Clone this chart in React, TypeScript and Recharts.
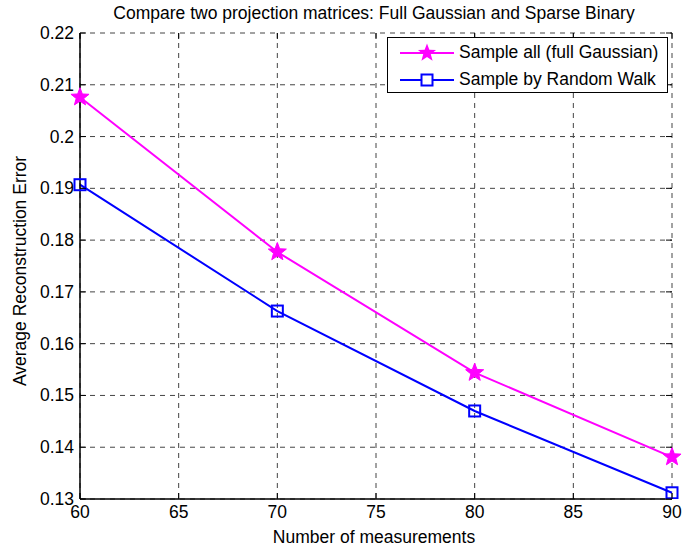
import React from 'react';
import { LineChart, Line, XAxis, YAxis, CartesianGrid, Legend } from 'recharts';

const measurements = [60, 70, 80, 90];
const fullGaussian = [0.2076, 0.1777, 0.1544, 0.1381];
const randomWalk = [0.1907, 0.1663, 0.147, 0.1312];
const xTicks = [60, 65, 70, 75, 80, 85, 90];
const yTicks = [0.13, 0.14, 0.15, 0.16, 0.17, 0.18, 0.19, 0.2, 0.21, 0.22];
const seriesNames = ['Sample all (full Gaussian)', 'Sample by Random Walk'];
const titleText = 'Compare two projection matrices: Full Gaussian and Sparse Binary';
const xLabel = 'Number of measurements';
const yLabel = 'Average Reconstruction Error';

const data = measurements.map((m, i) => ({ m, g: fullGaussian[i], r: randomWalk[i] }));

const FONT = '"Liberation Sans", Arial, sans-serif';
const FS = 17.5;
const MAGENTA = '#ff00ff';
const BLUE = '#0000ff';
const TICK_MARGIN = 4;
const TICK_IN = 6;

const starPath = (cx: number, cy: number, R: number) => {
  const r = R * 0.42;
  const pts: string[] = [];
  for (let i = 0; i < 10; i++) {
    const a = -Math.PI / 2 + (i * Math.PI) / 5;
    const rad = i % 2 === 0 ? R : r;
    pts.push(`${cx + rad * Math.cos(a)},${cy + rad * Math.sin(a)}`);
  }
  return 'M' + pts.join('L') + 'Z';
};

const StarDot = (props: any) => {
  const { cx, cy, index } = props;
  if (cx == null || cy == null) return null;
  return <path key={`s${index}`} d={starPath(cx, cy, 9.5)} fill={MAGENTA} stroke={MAGENTA} strokeWidth={1} />;
};

const SquareDot = (props: any) => {
  const { cx, cy, index } = props;
  if (cx == null || cy == null) return null;
  return <rect key={`q${index}`} x={cx - 5.5} y={cy - 5.5} width={11} height={11} fill="none" stroke={BLUE} strokeWidth={2} />;
};

const BottomTick = (props: any) => {
  const { x, y, payload } = props;
  const axisY = y - TICK_MARGIN;
  return (
    <g>
      <line x1={x} x2={x} y1={axisY} y2={axisY - TICK_IN} stroke="#000" />
      <line x1={x} x2={x} y1={33} y2={33 + TICK_IN} stroke="#000" />
      <text x={x} y={axisY + 19} textAnchor="middle" fontFamily={FONT} fontSize={FS} fill="#000">
        {payload.value}
      </text>
    </g>
  );
};

const LeftTick = (props: any) => {
  const { x, y, payload } = props;
  const axisX = x + TICK_MARGIN;
  const label = String(Number(payload.value.toFixed(2)));
  return (
    <g>
      <line x1={axisX} x2={axisX + TICK_IN} y1={y} y2={y} stroke="#000" />
      <line x1={672} x2={672 - TICK_IN} y1={y} y2={y} stroke="#000" />
      <text x={axisX - 6} y={y + 6} textAnchor="end" fontFamily={FONT} fontSize={FS} fill="#000">
        {label}
      </text>
    </g>
  );
};

const LegendBox = () => (
  <div
    style={{
      width: 279,
      height: 54,
      border: '1px solid #000',
      background: '#fff',
      fontFamily: FONT,
      fontSize: FS,
      color: '#000',
      boxSizing: 'content-box',
    }}
  >
    {seriesNames.map((name, i) => (
      <div key={name} style={{ display: 'flex', alignItems: 'center', height: 27, paddingTop: i === 0 ? 1 : 0 }}>
        <svg width={56} height={20} style={{ marginLeft: 10 }}>
          <line x1={2} x2={56} y1={10} y2={10} stroke={i === 0 ? MAGENTA : BLUE} strokeWidth={2} />
          {i === 0 ? (
            <path d={starPath(29, 10, 9.5)} fill={MAGENTA} />
          ) : (
            <rect x={23.5} y={4.5} width={11} height={11} fill="#fff" stroke={BLUE} strokeWidth={2} />
          )}
        </svg>
        <span style={{ marginLeft: 5, whiteSpace: 'nowrap' }}>{name}</span>
      </div>
    ))}
  </div>
);

export default function App() {
  return (
    <div style={{ position: 'absolute', left: 0, top: 0, width: 683, height: 552, background: '#fff' }}>
      <LineChart width={683} height={552} data={data} margin={{ top: 33, right: 11, left: 20, bottom: 23 }}>
        <text x={374} y={19} textAnchor="middle" fontFamily={FONT} fontSize={FS} fill="#000">
          {titleText}
        </text>
        <text
          x={0}
          y={0}
          transform="translate(26,271) rotate(-90)"
          textAnchor="middle"
          fontFamily={FONT}
          fontSize={FS}
          fill="#000"
        >
          {yLabel}
        </text>
        <text x={374} y={543} textAnchor="middle" fontFamily={FONT} fontSize={FS} fill="#000">
          {xLabel}
        </text>
        <CartesianGrid stroke="#444" strokeDasharray="5 5" />
        <XAxis
          dataKey="m"
          type="number"
          domain={[60, 90]}
          ticks={xTicks}
          height={30}
          tickSize={0}
          tickMargin={TICK_MARGIN}
          tick={<BottomTick />}
          stroke="#000"
          strokeWidth={1.5}
          interval={0}
        />
        <XAxis xAxisId="top" orientation="top" dataKey="m" type="number" domain={[60, 90]} height={0} tick={false} tickLine={false} stroke="#000" />
        <YAxis
          type="number"
          domain={[0.13, 0.22]}
          ticks={yTicks}
          width={60}
          tickSize={0}
          tickMargin={TICK_MARGIN}
          tick={<LeftTick />}
          stroke="#000"
          strokeWidth={1.5}
          interval={0}
          allowDataOverflow
        />
        <YAxis yAxisId="right" orientation="right" type="number" domain={[0.13, 0.22]} width={0} tick={false} tickLine={false} stroke="#000" />
        <Legend
          layout="vertical"
          align="center"
          verticalAlign="middle"
          content={() => <LegendBox />}
          wrapperStyle={{ left: 387, top: 37, width: 281, height: 56 }}
        />
        <Line dataKey="g" stroke={MAGENTA} strokeWidth={2} dot={StarDot} activeDot={false} isAnimationActive={false} />
        <Line dataKey="r" stroke={BLUE} strokeWidth={2} dot={SquareDot} activeDot={false} isAnimationActive={false} />
      </LineChart>
    </div>
  );
}
